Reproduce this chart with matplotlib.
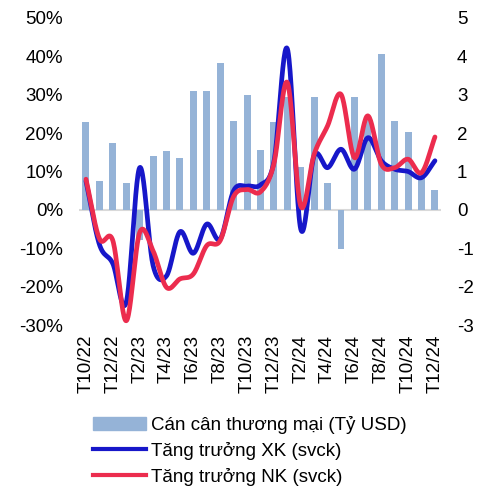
import numpy as np
import matplotlib.pyplot as plt
from matplotlib.patches import Patch
from matplotlib.lines import Line2D

plt.rcParams['font.family'] = ['Liberation Sans', 'DejaVu Sans']
plt.rcParams['font.size'] = 13.5
plt.rcParams['axes.unicode_minus'] = False

months = ['T10/22', 'T11/22', 'T12/22', 'T1/23', 'T2/23', 'T3/23', 'T4/23', 'T5/23',
          'T6/23', 'T7/23', 'T8/23', 'T9/23', 'T10/23', 'T11/23', 'T12/23', 'T1/24',
          'T2/24', 'T3/24', 'T4/24', 'T5/24', 'T6/24', 'T7/24', 'T8/24', 'T9/24',
          'T10/24', 'T11/24', 'T12/24']

# can can thuong mai, ty USD (truc phai)
trade_balance = [2.28, 0.76, 1.75, 0.69, -0.78, 1.41, 1.53, 1.35, 3.10, 3.09, 3.84, 2.31,
                 3.00, 1.56, 2.29, 2.93, 1.12, 2.94, 0.69, -1.02, 2.94, 2.40, 4.06, 2.32,
                 2.04, 0.95, 0.53]

# tang truong xuat khau / nhap khau, % svck (truc trai)
export_growth = [7.5, -9.0, -14.0, -24.1, 11.0, -14.5, -17.2, -5.7, -11.3, -3.7, -7.6, 5.0,
                 6.2, 6.5, 12.5, 42.0, -5.0, 14.1, 11.0, 15.8, 10.6, 18.8, 12.8, 10.6,
                 10.0, 8.4, 12.8]
import_growth = [8.0, -7.5, -8.0, -28.9, -5.9, -10.7, -20.2, -18.0, -16.7, -9.3, -8.0, 3.5,
                 5.3, 4.7, 12.0, 33.2, 1.0, 14.5, 21.9, 30.1, 13.6, 24.5, 11.9, 11.0,
                 13.2, 9.7, 19.0]


def smooth(x, y, n=24):
    # catmull-rom, gan giong duong "smoothed line" cua Excel
    x = np.asarray(x, float)
    y = np.asarray(y, float)
    px = np.concatenate([[2 * x[0] - x[1]], x, [2 * x[-1] - x[-2]]])
    py = np.concatenate([[2 * y[0] - y[1]], y, [2 * y[-1] - y[-2]]])
    t = np.linspace(0, 1, n, endpoint=False)
    xs, ys = [], []
    for i in range(1, len(px) - 2):
        for p, out in ((px, xs), (py, ys)):
            p0, p1, p2, p3 = p[i - 1], p[i], p[i + 1], p[i + 2]
            out.append(0.5 * (2 * p1 + (-p0 + p2) * t
                              + (2 * p0 - 5 * p1 + 4 * p2 - p3) * t ** 2
                              + (-p0 + 3 * p1 - 3 * p2 + p3) * t ** 3))
    xs.append([x[-1]])
    ys.append([y[-1]])
    return np.concatenate(xs), np.concatenate(ys)


bar_color = '#95B3D7'
xk_color = '#1717C9'
nk_color = '#EC2C4E'

fig = plt.figure(figsize=(4.86, 4.88), dpi=100)
ax = fig.add_axes([79 / 486, 1 - 325 / 488, (441 - 79) / 486, (325 - 18) / 488])
ax2 = ax.twinx()

x = np.arange(len(months))
ax2.bar(x, trade_balance, width=0.52, color=bar_color, zorder=2)
ax2.axhline(0, color='#D9D9D9', lw=1.5, zorder=1)
ax2.set_ylim(-3, 5)
ax2.set_yticks(range(-3, 6))

sx, sy = smooth(x, export_growth)
ax.plot(sx, sy, color=xk_color, lw=3.4, solid_capstyle='round', zorder=3)
sx, sy = smooth(x, import_growth)
ax.plot(sx, sy, color=nk_color, lw=3.4, solid_capstyle='round', zorder=4)
ax.set_ylim(-30, 50)
ax.set_yticks(range(-30, 51, 10))
ax.set_yticklabels([f'{v}%' for v in range(-30, 51, 10)])

ax.set_zorder(ax2.get_zorder() + 1)
ax.patch.set_visible(False)

ax.set_xlim(-0.52, 26.45)
ax.set_xticks(x[::2])
ax.set_xticklabels(months[::2], rotation=90)

for a in (ax, ax2):
    for s in a.spines.values():
        s.set_visible(False)
ax.tick_params(axis='y', length=0, pad=11.5)
ax2.tick_params(axis='y', length=0, pad=11.5)
ax.tick_params(axis='x', length=0, pad=7)

handles = [Patch(color=bar_color),
           Line2D([], [], color=xk_color, lw=3),
           Line2D([], [], color=nk_color, lw=3)]
labels = ['Cán cân thương mại (Tỷ USD)', 'Tăng trưởng XK (svck)', 'Tăng trưởng NK (svck)']
fig.legend(handles, labels, loc='upper left', bbox_to_anchor=(93 / 486, 1 - 416 / 488),
           frameon=False, borderpad=0, handlelength=2.8, handletextpad=0.3,
           labelspacing=0.42, borderaxespad=0)

fig.savefig('out.png', dpi=100)
